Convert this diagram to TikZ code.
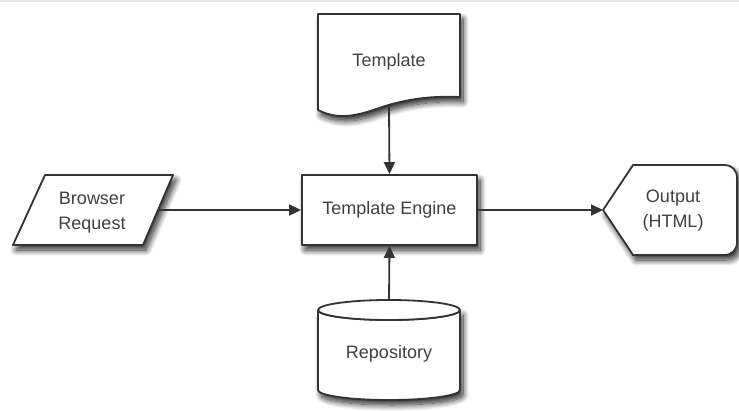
\documentclass[tikz,border=0pt]{standalone}
\usepackage{fontspec}
\setmainfont{Liberation Sans}
\usetikzlibrary{arrows.meta,shadows.blur}
\definecolor{stroke}{HTML}{333333}
\definecolor{ink}{HTML}{404040}
\tikzset{
  x=1pt, y=-1pt,
  outline/.style={draw=stroke, line width=1.8pt, fill=white, line join=round},
  shade/.style={blur shadow={shadow xshift=3pt, shadow yshift=-5pt, shadow blur radius=6pt, shadow blur steps=12, shadow opacity=85}},
  label/.style={text=ink, font=\fontsize{18}{25}\selectfont, align=center, inner sep=0pt},
  box/.style={outline, shade, minimum width=175pt, minimum height=70pt, inner sep=0pt, text=ink, font=\fontsize{18}{25}\selectfont},
  flow/.style={draw=stroke, line width=1.8pt, -{Triangle[length=12pt,width=11pt]}},
}
\begin{document}
\begin{tikzpicture}
  \useasboundingbox (0,0) rectangle (739,411);
  \fill[black!10] (0,0) rectangle (739,2);

  % template document with a wavy lower edge
  \path[outline, shade] (318,14) -- (460,14) -- (460,97)
    .. controls (435,96) and (415,98) .. (392,104)
    .. controls (370,110) and (345,124) .. (318,110) -- cycle;
  \node[label] (tpl) at (389,62) {Template};
  \coordinate (tplbot) at (389,107);

  % browser request as a parallelogram
  \path[outline, shade] (45,175) -- (173,175) -- (143,245) -- (13,245) -- cycle;
  \node[label] (req) at (92,213) {Browser\\Request};
  \coordinate (reqR) at (158,210);

  % central process
  \node[box] (engine) at (389.5,210) {Template Engine};

  % output display shape
  \path[outline, shade] (603,210) -- (633,165) -- (724,165)
    .. controls (732,165) and (737,170) .. (737,178) -- (737,242)
    .. controls (737,250) and (732,255) .. (724,255) -- (633,255) -- cycle;
  \node[label] (out) at (673,211) {Output\\(HTML)};
  \coordinate (outL) at (603,210);

  % repository cylinder
  \path[outline, shade] (318,310) -- (318,390)
    arc[start angle=180, end angle=0, x radius=71, y radius=10] -- (460,310)
    arc[start angle=0, end angle=180, x radius=71, y radius=10];
  \draw[outline] (389,310) ellipse[x radius=71, y radius=10];
  \node[label] (repo) at (389,354) {Repository};
  \coordinate (repoTop) at (389,300);

  % connectors
  \draw[flow] (tplbot) -- (engine.north);
  \draw[flow] (reqR) -- (engine.west);
  \draw[flow] (engine.east) -- (outL);
  \draw[flow] (repoTop) -- (engine.south);
\end{tikzpicture}
\end{document}
